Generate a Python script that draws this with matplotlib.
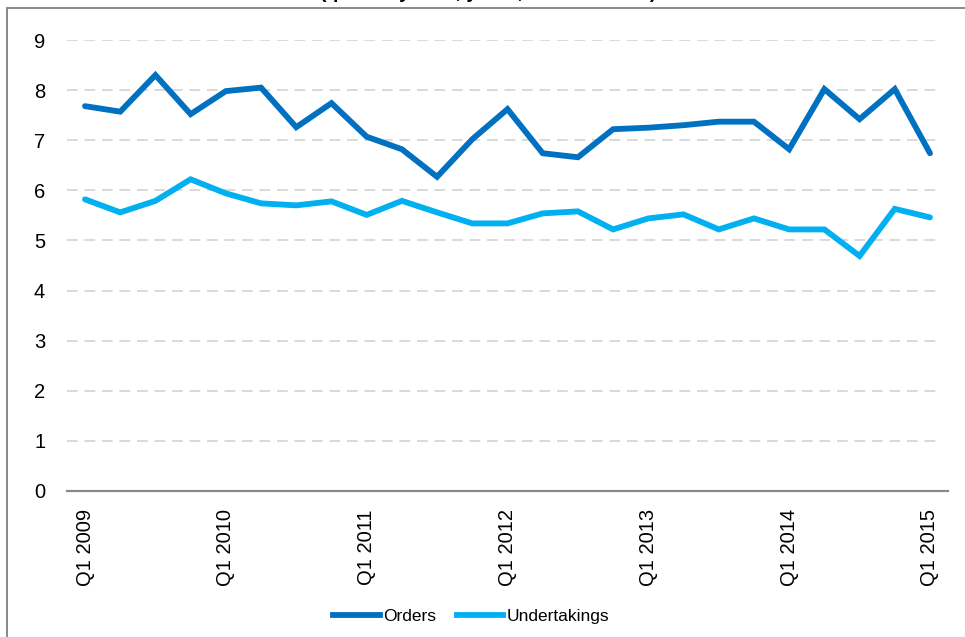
import matplotlib
matplotlib.use("Agg")
import matplotlib.pyplot as plt
from matplotlib.patches import Rectangle
from matplotlib.lines import Line2D

quarters = [f"Q{q} {y}" for y in range(2009, 2016) for q in range(1, 5)][:25]
tick_labels = ["Q1 2009", "Q1 2010", "Q1 2011", "Q1 2012", "Q1 2013", "Q1 2014", "Q1 2015"]
orders = [7.68, 7.57, 8.30, 7.52, 7.98, 8.05, 7.26, 7.74, 7.07, 6.82, 6.27, 7.02, 7.62,
          6.74, 6.66, 7.22, 7.25, 7.30, 7.37, 7.37, 6.82, 8.02, 7.42, 8.02, 6.74]
undertakings = [5.82, 5.56, 5.79, 6.22, 5.94, 5.74, 5.70, 5.78, 5.51, 5.79, 5.56, 5.34, 5.34,
                5.54, 5.58, 5.22, 5.44, 5.52, 5.22, 5.44, 5.22, 5.22, 4.69, 5.63, 5.46]
title = "(quarterly data, years, in thousands)"

plt.rcParams['font.family'] = ['Liberation Sans', 'DejaVu Sans']

W, H = 965, 637
fig = plt.figure(figsize=(W / 100, H / 100), dpi=100)
ax = fig.add_axes([67.4 / W, 1 - 491 / H, (947.6 - 67.4) / W, (491 - 40) / H])

x = list(range(len(quarters)))
ax.plot(x, orders, color="#0070C0", lw=4.2, solid_joinstyle="miter", solid_capstyle="round",
        label="Orders", zorder=3)
ax.plot(x, undertakings, color="#00B0F0", lw=4.2, solid_joinstyle="miter", solid_capstyle="round",
        label="Undertakings", zorder=3)

ax.set_xlim(-0.5, len(quarters) - 0.5)
ax.set_ylim(0, 9)
ax.set_yticks(range(0, 10))
ax.set_xticks([quarters.index(t) for t in tick_labels])
ax.set_xticklabels(tick_labels, rotation=90, va="top", ha="center")
ax.tick_params(axis="both", length=0, labelsize=14.5, colors="black")
ax.tick_params(axis="y", pad=16)
ax.tick_params(axis="x", pad=13)

for v in range(1, 10):
    ax.axhline(v, xmin=0, xmax=(942 - 67.4) / (947.6 - 67.4), color="#D9D9D9", lw=1.4,
               dashes=(5.5, 3.5), zorder=1)
for s in ["top", "right", "left"]:
    ax.spines[s].set_visible(False)
ax.spines["bottom"].set_color("#898989")
ax.spines["bottom"].set_linewidth(1.6)

leg = fig.legend(handles=[Line2D([], [], color="#0070C0", lw=4.2), Line2D([], [], color="#00B0F0", lw=4.2)],
                 labels=["Orders", "Undertakings"], loc="center", bbox_to_anchor=(471 / W, 1 - 616 / H),
                 ncol=2, frameon=False, handlelength=2.7, handletextpad=0.17,
                 columnspacing=1.2, fontsize=12.5)

fig.patches.append(Rectangle((7 / W, -0.1), 1.2, 1.1 - 8 / H, transform=fig.transFigure,
                             fill=False, edgecolor="#898989", lw=1.4, zorder=0))
fig.text(488 / W, 1 + 1.5 / H, title, ha="center", va="baseline", fontsize=14, fontweight="bold")

fig.savefig("out.png", dpi=100)
